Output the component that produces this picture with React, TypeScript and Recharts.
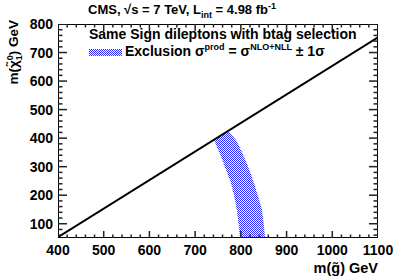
import React from 'react';
import { ComposedChart, Area, Line, Scatter, XAxis, YAxis } from 'recharts';

// gluino mass axis (GeV): labelled ticks every 100, small ticks every 20
const xMajorTicks = [400, 500, 600, 700, 800, 900, 1000, 1100];
// neutralino mass axis (GeV)
const yMajorTicks = [100, 200, 300, 400, 500, 600, 700, 800];

// exclusion band: for each m(chi) the left / right m(gluino) edge
const bandMchi = [50, 100, 150, 200, 250, 300, 350, 394, 425];
const bandLeft = [798, 795, 791, 785, 777, 765, 753, 741, 772];
const bandRight = [853, 850, 846, 837, 827, 816, 803, 789, 772];

// kinematic limit line
const lineMg = [397, 1100];
const lineMchi = [50, 753];

const stepTicks = (from: number, to: number, step: number) => {
  const out: number[] = [];
  for (let v = from; v <= to; v += step) out.push(v);
  return out;
};
const xAllTicks = stepTicks(400, 1100, 20);
const yAllTicks = stepTicks(60, 800, 20);

const xDomain: [number, number] = [400, 1100];
const yDomain: [number, number] = [50, 800];

const bandRows = bandMchi.map((m, i) => ({ mchi: m, range: [bandLeft[i], bandRight[i]] }));
const lineRows = lineMg.map((mg, i) => ({ mchi: lineMchi[i], mg }));
// frame around the plot, walked corner to corner
const frameRows = [
  { mg: xDomain[0], mchi: yDomain[0] },
  { mg: xDomain[0], mchi: yDomain[1] },
  { mg: xDomain[1], mchi: yDomain[1] },
  { mg: xDomain[1], mchi: yDomain[0] },
  { mg: xDomain[0], mchi: yDomain[0] },
];

// tick marks on the frame, placed through the axis scales
const bottomMarks = xAllTicks.map(v => ({ mg: v, mchi: yDomain[0], major: xMajorTicks.includes(v) }));
const topMarks = xAllTicks.map(v => ({ mg: v, mchi: yDomain[1], major: xMajorTicks.includes(v) }));
const leftMarks = yAllTicks.map(v => ({ mg: xDomain[0], mchi: v, major: yMajorTicks.includes(v) }));
const rightMarks = yAllTicks.map(v => ({ mg: xDomain[1], mchi: v, major: yMajorTicks.includes(v) }));

const FONT = '"Liberation Sans", Arial, Helvetica, sans-serif';
const W = 407;
const H = 276;
const MARGIN = { top: 24, right: 29, bottom: 17, left: 0 };

const mark = (dx: number, dy: number, majorLen: number, minorLen: number) => (props: any) => {
  const { cx, cy, payload } = props;
  const len = payload && payload.major ? majorLen : minorLen;
  return <path d={`M${cx},${cy}L${cx + dx * len},${cy + dy * len}`} stroke="#222" strokeWidth={1.5} fill="none" />;
};
const bottomShape = mark(0, -1, 7, 3.5);
const topShape = mark(0, 1, 7, 3.5);
const leftShape = mark(1, 0, 9, 4.5);
const rightShape = mark(-1, 0, 9, 4.5);

const XLabel = (props: any) => {
  const { x, y, payload } = props;
  return (
    <text x={x} y={y + 7} dy="0.71em" textAnchor="middle" fill="#000" fontSize={14} fontWeight="bold" fontFamily={FONT}>
      {payload.value}
    </text>
  );
};

const YLabel = (props: any) => {
  const { x, y, payload } = props;
  return (
    <text x={x - 5} y={y} dy="0.355em" textAnchor="end" fill="#000" fontSize={14} fontWeight="bold" fontFamily={FONT}>
      {payload.value}
    </text>
  );
};

export default function App() {
  const scatterCommon = {
    xAxisId: 'main',
    yAxisId: 'main',
    dataKey: 'mg',
    isAnimationActive: false,
  };

  return (
    <div style={{ position: 'absolute', left: 0, top: 0, width: W, height: H, background: '#fff' }}>
      <ComposedChart width={W} height={H} layout="vertical" margin={MARGIN}>
        <defs>
          <pattern id="hatch" width="2" height="2" patternUnits="userSpaceOnUse">
            <rect width="2" height="2" fill="#ffffff" />
            <rect x="0" y="0" width="1" height="1" fill="#2b2bff" />
            <rect x="1" y="1" width="1" height="1" fill="#2b2bff" />
          </pattern>
        </defs>

        <XAxis
          xAxisId="main"
          type="number"
          domain={xDomain}
          allowDataOverflow
          ticks={xMajorTicks}
          interval={0}
          height={21}
          tickSize={0}
          tickMargin={0}
          tickLine={false}
          axisLine={false}
          tick={XLabel}
        />
        <YAxis
          yAxisId="main"
          dataKey="mchi"
          type="number"
          reversed
          domain={yDomain}
          allowDataOverflow
          ticks={yMajorTicks}
          interval={0}
          width={58}
          tickSize={0}
          tickMargin={0}
          tickLine={false}
          axisLine={false}
          tick={YLabel}
        />

        <Area
          xAxisId="main"
          yAxisId="main"
          data={bandRows}
          dataKey="range"
          type="linear"
          fill="url(#hatch)"
          fillOpacity={1}
          stroke="none"
          isAnimationActive={false}
        />
        <Line
          xAxisId="main"
          yAxisId="main"
          data={lineRows}
          dataKey="mg"
          type="linear"
          stroke="#000"
          strokeWidth={2}
          dot={false}
          isAnimationActive={false}
        />
        <Line
          xAxisId="main"
          yAxisId="main"
          data={frameRows}
          dataKey="mg"
          type="linear"
          stroke="#000"
          strokeWidth={2}
          dot={false}
          isAnimationActive={false}
        />

        <Scatter {...scatterCommon} data={bottomMarks} shape={bottomShape} />
        <Scatter {...scatterCommon} data={topMarks} shape={topShape} />
        <Scatter {...scatterCommon} data={leftMarks} shape={leftShape} />
        <Scatter {...scatterCommon} data={rightMarks} shape={rightShape} />
      </ComposedChart>

      <svg
        width={W}
        height={H}
        style={{ position: 'absolute', left: 0, top: 0, pointerEvents: 'none' }}
        fontFamily={FONT}
        fontWeight="bold"
      >
        <text x={88} y={13.5} fontSize={13}>
          CMS, √s = 7 TeV, L
          <tspan fontSize={9} dy={4}>int</tspan>
          <tspan dy={-4}> = 4.98 fb</tspan>
          <tspan fontSize={9} dy={-5}>-1</tspan>
        </text>

        <text x={89} y={38.5} fontSize={14}>Same Sign dileptons with btag selection</text>

        <rect x={89} y={49} width={33} height={7} fill="url(#hatch)" />
        <text x={125} y={55.5} fontSize={14}>
          Exclusion σ
          <tspan fontSize={9} dy={-6}>prod</tspan>
          <tspan dy={6}> = σ</tspan>
          <tspan fontSize={9} dy={-6}>NLO+NLL</tspan>
          <tspan dy={6}> ± 1σ</tspan>
        </text>

        <text x={378} y={273} fontSize={14.5} textAnchor="end">m(g̃) GeV</text>

        <text transform="translate(18,20) rotate(-90)" fontSize={13.5} textAnchor="end">
          m(χ̃
          <tspan fontSize={9} dy={-5}>0</tspan>
          <tspan fontSize={9} dx={-5} dy={9}>1</tspan>
          <tspan dy={-4}>) GeV</tspan>
        </text>
      </svg>
    </div>
  );
}
